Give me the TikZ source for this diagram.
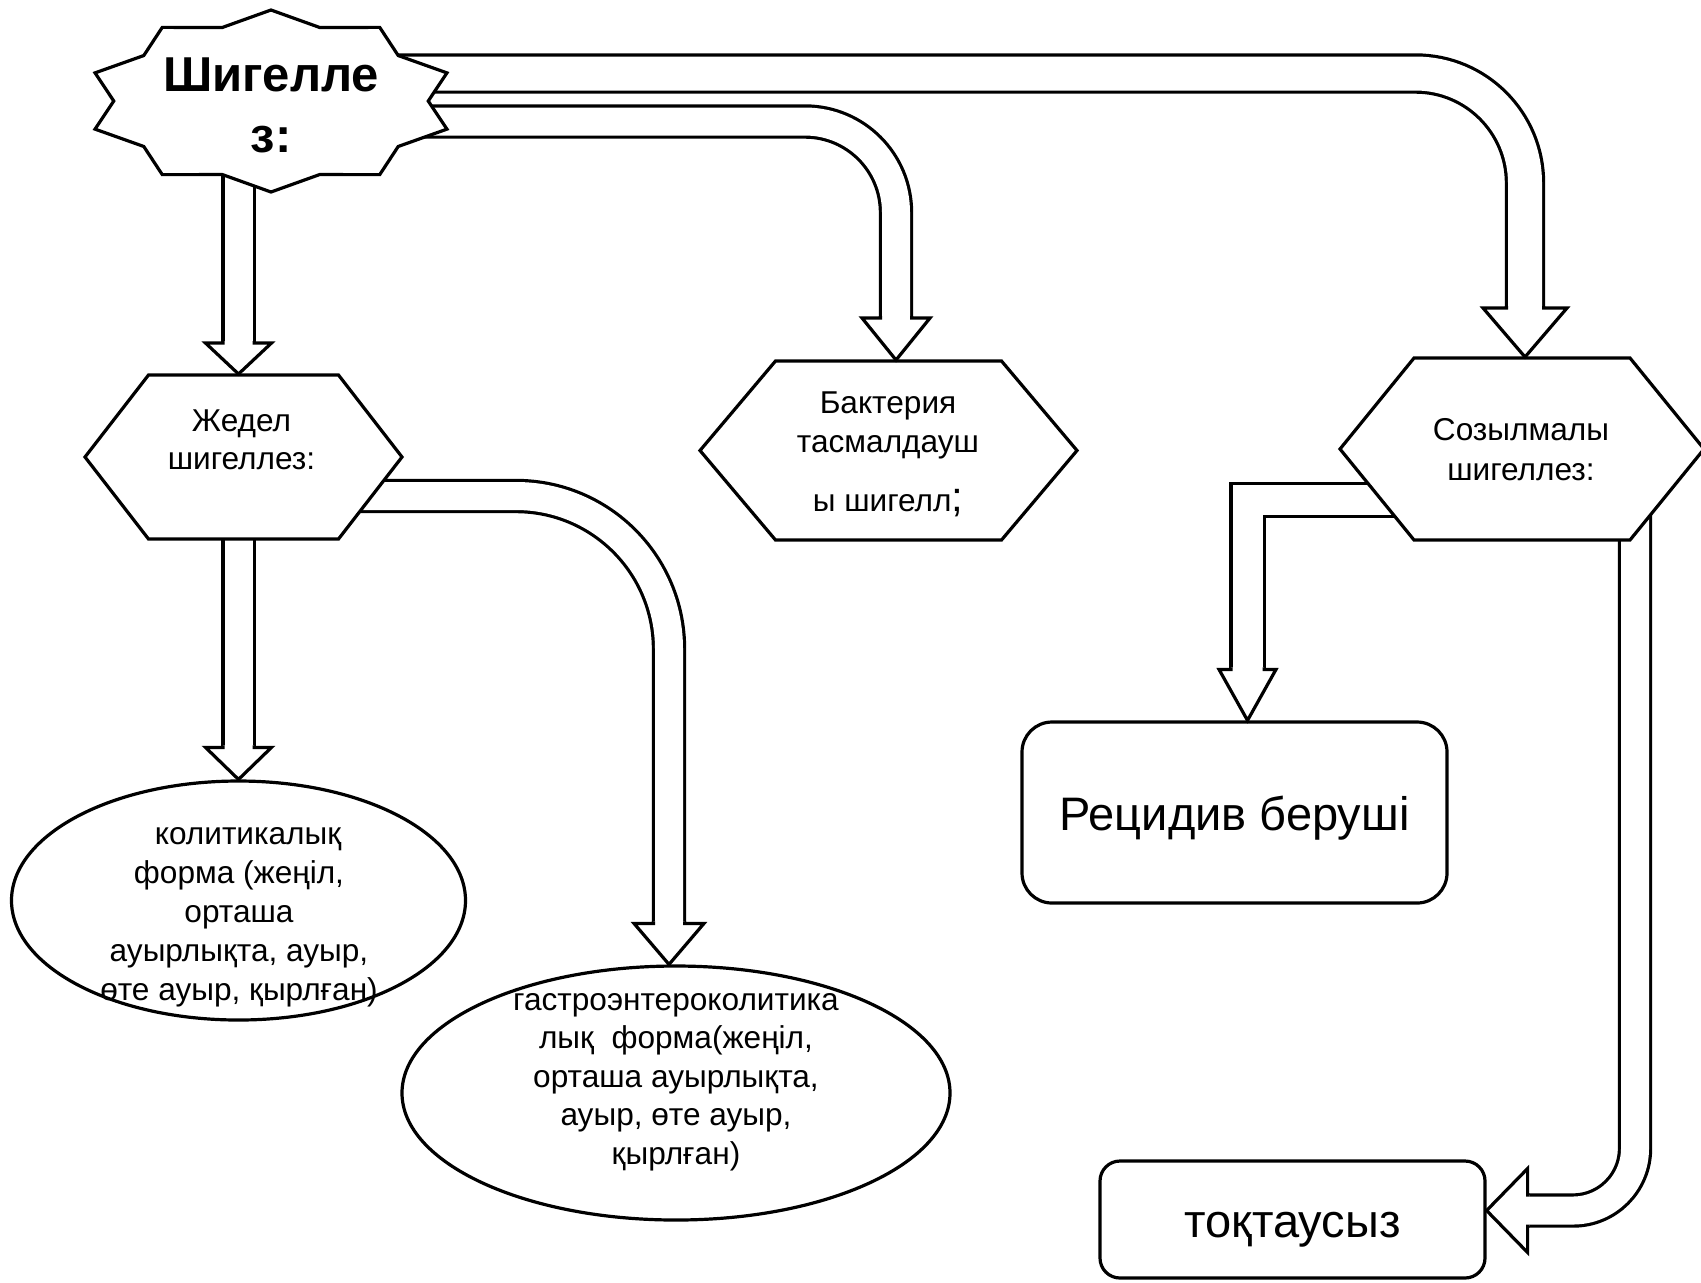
\documentclass[tikz,border=0pt]{standalone}
\usepackage{fontspec}
\setmainfont{Liberation Sans}
\usetikzlibrary{calc}
\usetikzlibrary{shapes.geometric}
\usetikzlibrary{backgrounds}
\tikzstyle{shapeline}=[draw=black,line width=1.6pt]
\tikzstyle{tube}=[draw=black,line width=1.6pt,double=white,double distance=14pt]
\tikzstyle{midtube}=[tube,double distance=15pt]
\tikzstyle{widetube}=[tube,double distance=17pt]
\tikzstyle{sealbox}=[minimum width=185pt,minimum height=91pt,inner sep=0pt,outer sep=0pt]
\tikzstyle{sealtext}=[align=center,inner sep=0pt,font=\bfseries\fontsize{24.5}{30.9}\selectfont]
\tikzstyle{hexbox}=[inner sep=0pt,outer sep=0pt]
\tikzstyle{smalltext}=[align=center,inner sep=0pt,font=\fontsize{15.8}{19.5}\selectfont]
\tikzstyle{bigtext}=[inner sep=0pt,font=\fontsize{23.5}{28}\selectfont]
\tikzstyle{oval}=[ellipse,shapeline,fill=white]
\tikzstyle{roundbox}=[rectangle,shapeline,fill=white]
\newcommand{\drawseal}[4]{% Syntax: {center node}{x radius}{y radius}{inner ratio}
  \draw[shapeline,fill=white] ($(#1)+(0,-#3)$)
    \foreach \k in {1,...,19} { -- ($(#1)+({#2*(1-(1-#4)*mod(\k,2))*cos(90-18*\k)},{-#3*(1-(1-#4)*mod(\k,2))*sin(90-18*\k)})$) } -- cycle;
}
\newcommand{\drawhex}[2]{% Syntax: {node}{tip length}
  \draw[shapeline,fill=white] ($(#1.north west)+(#2,0)$) -- ($(#1.north east)+(-#2,0)$) -- (#1.east)
    -- ($(#1.south east)+(-#2,0)$) -- ($(#1.south west)+(#2,0)$) -- (#1.west) -- cycle;
}
\newcommand{\blockhead}[5][0]{% Syntax: [rotation] {tip}{length}{half shaft}{half wing}
  \begin{scope}[shift={(#2)},rotate=#1]
    \draw[shapeline,fill=white] (-#4,{-#3-2}) -- (-#4,-#3) -- (-#5,-#3) -- (0,0) -- (#5,-#3) -- (#4,-#3) -- (#4,{-#3-2});
  \end{scope}
}

\begin{document}
\begin{tikzpicture}[x=0.5pt,y=-0.5pt]
\useasboundingbox (0,0) rectangle (1701,1282);
% shapes
\node[sealbox] (shig) at (271,101) {};
\node[hexbox,minimum width=158.5pt,minimum height=82pt] (zhedel) at (243.5,457) {};
\node[hexbox,minimum width=188.5pt,minimum height=89.5pt] (bakt) at (888.5,450.5) {};
\node[hexbox,minimum width=182pt,minimum height=91pt] (sozyl) at (1522,449) {};
\node[oval,minimum width=227pt,minimum height=119.5pt] (kolit) at (238.5,900.5) {};
\node[oval,minimum width=274pt,minimum height=127pt] (gastro) at (676,1093) {};
\node[roundbox,rounded corners=15pt,minimum width=212.5pt,minimum height=90.5pt] (recid) at (1234.5,812.5) {};
\node[roundbox,rounded corners=10pt,minimum width=192.5pt,minimum height=58.5pt] (tokt) at (1292.5,1219.5) {};
% texts
\node[sealtext] (shig-t) at (271,105.4) {Шигелле\\з:};
\node[smalltext,font=\fontsize{15.8}{19}\selectfont] (zhedel-t) at (241.5,439.5) {Жедел\\шигеллез:};
\node[smalltext] (bakt-t) at (888,454.5) {Бактерия\\тасмалдауш\\[10pt]ы шигелл{\fontsize{21}{21}\selectfont;}};
\node[smalltext,font=\fontsize{15.8}{20}\selectfont] (sozyl-t) at (1521,450) {Созылмалы\\шигеллез:};
\node[smalltext] (kolit-t) at (239,917) {\hspace*{9pt}колитикалық\\форма (жеңіл,\\орташа\\ауырлықта, ауыр,\\өте ауыр, қырлған)};
\node[smalltext,font=\fontsize{15.8}{19.3}\selectfont] (gastro-t) at (676,1082) {гастроэнтероколитика\\лық~ форма(жеңіл,\\орташа ауырлықта,\\ауыр, өте ауыр,\\қырлған)};
\node[bigtext] (recid-t) at ($(recid)+(0,5.5)$) {Рецидив беруші};
\node[bigtext] (tokt-t) at ($(tokt)+(0,10)$) {тоқтаусыз};
% where the arrows leave and arrive
\coordinate (s1) at ($(shig)+(-32.5,49)$);
\coordinate (s2) at ($(shig)+(109,-27.5)$);
\coordinate (s3) at ($(shig)+(109,20.5)$);
\coordinate (s4) at ($(zhedel)+(-5,43)$);
\coordinate (s5) at ($(zhedel)+(96.5,39)$);
\coordinate (s6) at ($(sozyl)+(-112,51)$);
\coordinate (s7) at ($(sozyl)+(113,31)$);
\coordinate (t1) at ($(zhedel.north)+(-5,-1)$);
\coordinate (t2) at ($(sozyl.north)+(3,-1)$);
\coordinate (t3) at ($(bakt.north)+(7.5,-1)$);
\coordinate (t4) at (kolit.north);
\coordinate (t5) at ($(gastro.north)+(-7,0)$);
\coordinate (t6) at ($(recid.north)+(13,0)$);
\coordinate (t7) at ($(tokt.east)+(0,-9)$);
\begin{pgfonlayer}{background}
\fill[white] (0,0) rectangle (1701,1282);
\draw[tube] (s1) -- ($(t1)+(0,-31)$);
\draw[widetube,rounded corners=54.75pt] (s2) -- (s2 -| t2) -- ($(t2)+(0,-49)$);
\draw[tube,rounded corners=45.5pt] (s3) -- (s3 -| t3) -- ($(t3)+(0,-42)$);
\draw[tube] (s4) -- ($(t4)+(0,-32)$);
\draw[tube,rounded corners=76.5pt] (s5) -- (s5 -| t5) -- ($(t5)+(0,-41)$);
\draw[midtube] (s6) -- (s6 -| t6) -- ($(t6)+(0,-51)$);
\draw[tube,rounded corners=31pt] (s7) -- (s7 |- t7) -- ($(t7)+(41,0)$);
\drawseal{shig}{185}{91}{0.85}
\drawhex{zhedel}{63.5}
\drawhex{bakt}{75.5}
\drawhex{sozyl}{74}
\end{pgfonlayer}
% arrow heads
\blockhead{t1}{31}{15.6}{33}
\blockhead{t2}{49}{18.6}{42}
\blockhead{t3}{42}{15.6}{34}
\blockhead{t4}{32}{15.6}{33}
\blockhead{t5}{41}{15.6}{35}
\blockhead{t6}{51}{16.6}{28.5}
\blockhead[-90]{t7}{41}{15.6}{42}
\end{tikzpicture}
\end{document}
